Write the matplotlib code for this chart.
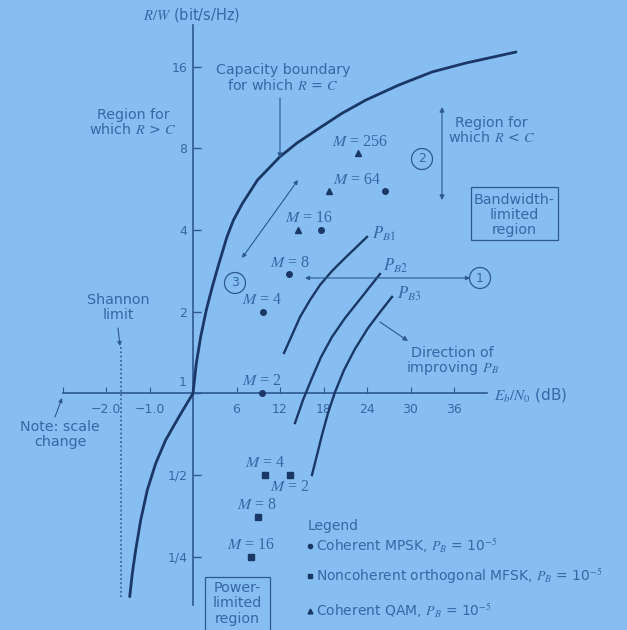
import numpy as np
import matplotlib
matplotlib.use("Agg")
import matplotlib.pyplot as plt
from matplotlib.patches import Rectangle

# ---------------- data ----------------
# Capacity boundary R = C  (Eb/N0 in dB, R/W in bit/s/Hz)
cap_ebno_db = [-1.455, -1.395, -1.317, -1.202, -1.051, -0.857, -0.628, -0.322, 0.0,
               0.455, 1.062, 1.834, 2.662, 3.586, 4.69, 5.586, 6.828, 8.897, 12.0,
               14.34, 17.66, 20.55, 23.86, 28.41, 32.97, 37.66, 44.55]
cap_rw = [0.178, 0.217, 0.265, 0.341, 0.440, 0.552, 0.673, 0.820, 1.0,
          1.290, 1.617, 2.028, 2.472, 3.015, 3.779, 4.355, 5.018, 6.115, 7.453,
          8.37, 9.59, 10.77, 12.06, 13.70, 15.30, 16.51, 18.12]

# Constant bit-error-probability curves
pb1_ebno_db = [12.55, 13.66, 14.76, 16.14, 17.52, 19.17, 20.97, 24.0]
pb1_rw = [1.408, 1.640, 1.911, 2.208, 2.508, 2.825, 3.154, 3.772]
pb2_ebno_db = [14.07, 15.17, 16.41, 17.66, 19.17, 20.97, 23.17, 25.79]
pb2_rw = [0.777, 0.945, 1.139, 1.361, 1.613, 1.895, 2.246, 2.753]
pb3_ebno_db = [16.41, 17.10, 17.79, 18.62, 19.59, 20.83, 22.34, 24.14, 25.93, 27.45]
pb3_rw = [0.500, 0.592, 0.702, 0.846, 1.011, 1.219, 1.457, 1.741, 2.013, 2.267]

# Modulation points (P_B = 1e-5)
mpsk_ebno_db = [9.5, 9.7, 13.2, 17.7, 26.5]
mpsk_rw = [1.0, 2.0, 2.75, 4.0, 5.55]
mfsk_ebno_db = [13.4, 9.9, 9.0, 8.0]
mfsk_rw = [0.5, 0.5, 0.35, 0.25]
qam_ebno_db = [14.5, 18.7, 22.8]
qam_rw = [4.0, 5.57, 7.7]

shannon_limit_db = -1.65

y_ticks = [0.25, 0.5, 1, 2, 4, 8, 16]
y_tick_labels = ["1/4", "1/2", "", "2", "4", "8", "16"]
x_ticks = [-3, -2, -1, 6, 12, 18, 24, 30, 36]
x_tick_labels = ["", "\u22122.0", "\u22121.0", "6", "12", "18", "24", "30", "36"]

# ---------------- style ----------------
plt.rcParams["font.family"] = ["DejaVu Sans"]
plt.rcParams["mathtext.fontset"] = "stix"
bg = "#86BEF2"
lc_curve = "#1B3765"
lc_axis = "#2D5890"
tc = "#3767A5"
FS = 10.3

W, H = 627, 630
fig = plt.figure(figsize=(W / 100, H / 100), dpi=100)
fig.patch.set_facecolor(bg)
ax = fig.add_axes([0, 0, 1, 1])
ax.set_facecolor(bg)


def fwd(x):
    x = np.asarray(x, dtype=float)
    return np.where(x < 0, 6.0 * x, x)


def inv(u):
    u = np.asarray(u, dtype=float)
    return np.where(u < 0, u / 6.0, u)


ax.set_xscale("function", functions=(fwd, inv))
ax.set_yscale("log", base=2)
ax.set_xlim(-4.437, 59.86)
ax.set_ylim(0.1341, 28.18)

for s in ("top", "right"):
    ax.spines[s].set_visible(False)
ax.spines["left"].set_position(("data", 0))
ax.spines["bottom"].set_position(("data", 1))
ax.spines["left"].set_bounds(0.166, 22.8)
ax.spines["bottom"].set_bounds(-3.0, 40.5)
for s in ("left", "bottom"):
    ax.spines[s].set_color(lc_axis)
    ax.spines[s].set_linewidth(1.2)

ax.set_yticks(y_ticks)
ax.set_yticklabels(y_tick_labels)
ax.yaxis.set_minor_locator(matplotlib.ticker.NullLocator())
ax.set_xticks(x_ticks)
ax.set_xticklabels(x_tick_labels)
ax.xaxis.set_minor_locator(matplotlib.ticker.NullLocator())
ax.tick_params(axis="y", direction="in", length=6, width=1, color=lc_axis,
               labelcolor=tc, labelsize=9, pad=4)
ax.tick_params(axis="x", direction="in", length=4, width=0.8, color=lc_axis,
               labelcolor=tc, labelsize=9, pad=7)

# ---------------- curves ----------------
ax.plot(cap_ebno_db, cap_rw, color=lc_curve, lw=2.0, solid_capstyle="round",
        solid_joinstyle="round", zorder=3)
for xs, ys in ((pb1_ebno_db, pb1_rw), (pb2_ebno_db, pb2_rw), (pb3_ebno_db, pb3_rw)):
    ax.plot(xs, ys, color=lc_curve, lw=1.7, solid_joinstyle="round", zorder=3)

ax.plot(mpsk_ebno_db, mpsk_rw, "o", ms=4, color=lc_curve, ls="none", zorder=4)
ax.plot(mfsk_ebno_db, mfsk_rw, "s", ms=4, color=lc_curve, ls="none", zorder=4)
ax.plot(qam_ebno_db, qam_rw, "^", ms=4.5, color=lc_curve, ls="none", zorder=4)

# Shannon limit dotted line
ax.plot([shannon_limit_db, shannon_limit_db], [0.178, 1.5], color=lc_axis,
        lw=1.1, ls=(0, (1.2, 1.6)), zorder=2)


# ---------------- annotations (layout in pixel-based axes fractions) ----------------
def P(x, y):
    return (x / W, 1 - y / H)


def txt(x, y, s, size=FS, ha="center", family=None, **kw):
    d = dict(transform=ax.transAxes, color=tc, fontsize=size, ha=ha, va="center")
    if family:
        d["family"] = family
    d.update(kw)
    ax.text(*P(x, y), s, **d)


def arrow(x0, y0, x1, y1, style="-|>", ms=7):
    ax.annotate("", xy=P(x1, y1), xytext=P(x0, y0), xycoords="axes fraction",
                textcoords="axes fraction",
                arrowprops=dict(arrowstyle=style, lw=0.8, color=lc_axis,
                                mutation_scale=ms, shrinkA=0, shrinkB=0))


txt(192, 15, r"$R/W$ (bit/s/Hz)", size=10.5)
txt(494, 395, r"$E_b/N_0$ (dB)", size=11, ha="left")
txt(183, 383, "1", size=9)

txt(283, 70, "Capacity boundary")
txt(283, 86, r"for which $R$ = $C$")
arrow(280, 98, 280, 158)

txt(133, 115, "Region for")
txt(133, 130, r"which $R$ > $C$")

txt(491, 123, "Region for")
txt(492, 138, r"which $R$ < $C$")
arrow(442, 152, 442, 107)
arrow(442, 152, 442, 200)

# circled numbers
circ = dict(boxstyle="circle,pad=0.32", fc="none", ec=lc_axis, lw=0.9)
txt(480, 278, "1", size=9, bbox=circ)
txt(422, 159, "2", size=9, bbox=circ)
txt(235, 283, "3", size=9, bbox=circ)

arrow(305, 278, 470, 278, style="<|-|>", ms=6)
arrow(298, 180, 242, 258, style="<|-|>", ms=6)

# Bandwidth-limited box
ax.add_patch(Rectangle(P(471, 240), 87 / W, 53 / H, transform=ax.transAxes,
                       fill=False, ec=lc_axis, lw=0.9))
txt(514, 200, "Bandwidth-")
txt(514, 215, "limited")
txt(514, 230, "region")

# Power-limited box
ax.add_patch(Rectangle(P(205, 640), 65 / W, 63 / H, transform=ax.transAxes,
                       fill=False, ec=lc_axis, lw=0.9))
txt(237, 588, "Power-")
txt(237, 603, "limited")
txt(237, 619, "region")

# P_B labels
txt(372, 234, r"$P_{B1}$", size=12, ha="left")
txt(383, 266, r"$P_{B2}$", size=12, ha="left")
txt(397, 294, r"$P_{B3}$", size=12, ha="left")

arrow(380, 322, 408, 341)
txt(452, 353, "Direction of")
txt(453, 368, r"improving $P_B$")

txt(118, 300, "Shannon")
txt(118, 315, "limit")
arrow(118, 328, 120, 346, ms=6)

txt(60, 427, "Note: scale")
txt(60, 442, "change")
arrow(55, 417, 62, 398, ms=6)

# M labels
mf = "Liberation Serif"
for (x, y, s) in [(360, 142, "256"), (357, 180, "64"), (309, 218, "16"), (290, 263, "8"),
                  (262, 300, "4"), (262, 381, "2"), (265, 463, "4"), (290, 487, "2"),
                  (257, 505, "8"), (251, 545, "16")]:
    txt(x, y, r"$M$ = " + s, size=11.5, family=mf)

# legend
txt(308, 526, "Legend", ha="left", size=10)
ax.plot(*P(310, 546), "o", ms=3, color=lc_curve, transform=ax.transAxes)
ax.plot(*P(310, 576), "s", ms=3.5, color=lc_curve, transform=ax.transAxes)
ax.plot(*P(310, 611), "^", ms=3.5, color=lc_curve, transform=ax.transAxes)
txt(316, 546, r"Coherent MPSK, $P_B$ = 10$^{-5}$", size=10, ha="left")
txt(316, 576, r"Noncoherent orthogonal MFSK, $P_B$ = 10$^{-5}$", size=10, ha="left")
txt(316, 611, r"Coherent QAM, $P_B$ = 10$^{-5}$", size=10, ha="left")

fig.savefig("out.png", dpi=100, facecolor=bg)
